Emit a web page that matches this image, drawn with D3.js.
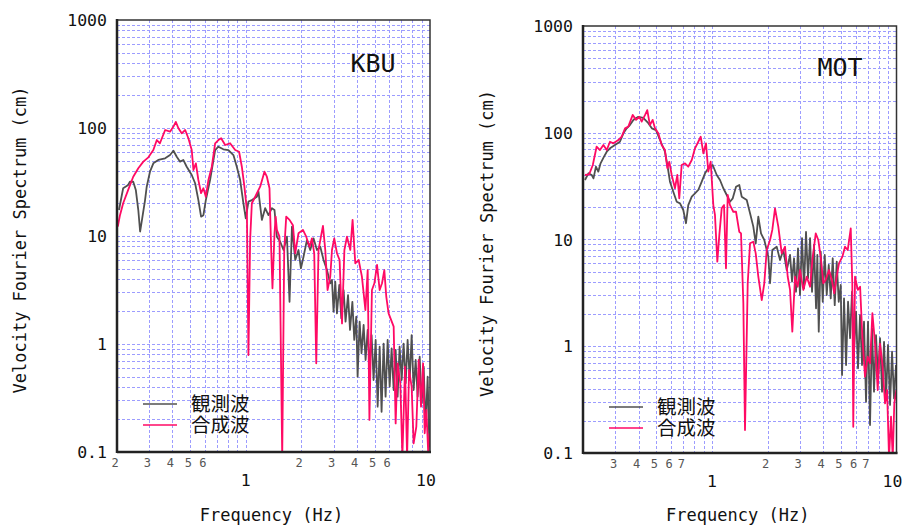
<!DOCTYPE html>
<html>
<head>
<meta charset="utf-8">
<script src="https://cdn.jsdelivr.net/npm/d3@7"></script>
<style>
  body { margin: 0; background: #fff; }
  svg { display: block; }
  .mono { font-family: 'DejaVu Sans Mono', 'Liberation Mono', monospace; }
</style>
</head>
<body>
<script>
// KBU - observed (grey) and synthetic (pink)
const kbuObsFreq = [0.205,0.216,0.230,0.235,0.245,0.253,0.261,0.267,0.275,0.284,0.290,0.302,0.315,0.335,0.365,0.388,0.405,0.422,0.440,0.458,0.478,0.509,0.531,0.553,0.572,0.589,0.607,0.640,0.682,0.710,0.756,0.805,0.857,0.894,0.932,0.971,1.00,1.034,1.079,1.149,1.172,1.223,1.274,1.328,1.386,1.432,1.475,1.538,1.603,1.673,1.728,1.781,1.856,1.933,1.992,2.058,2.148,2.238,2.332,2.434,2.537,2.644,2.759,2.875,
  2.937,2.996,3.06,3.126,3.218,3.30,3.396,3.48,3.59,3.68,3.79,3.88,3.98,4.046,4.15,4.25,4.362,4.47,4.59,4.70,4.82,4.94,5.07,5.20,5.33,5.46,5.60,5.74,5.89,6.04,6.19,6.35,6.51,6.67,6.84,7.02,7.19,7.38,7.56,7.76,7.95,8.15,8.36,8.57,8.79,9.01,9.24,9.47,9.71,9.92];
const kbuObsAmp = [17.4,27.7,29.7,31.8,31.8,26.7,17.4,11.0,15.1,21.5,28.6,39.4,47.1,50.6,52.4,56.2,61.6,54.2,48.8,50.6,43.8,36.7,30.8,21.5,15.1,15.6,21.5,33.0,62.5,67.1,63.5,62.5,56.2,43.8,33.0,20.1,14.6,20.8,21.5,23.1,25.7,14.1,18.1,15.6,18.1,17.4,9.86,8.85,7.42,9.86,2.46,12.2,6.0,7.42,5.02,6.43,9.18,7.42,9.52,7.42,7.96,6.0,4.84,3.65,
  3.91,1.99,3.77,1.92,3.52,1.73,3.16,1.61,2.84,1.35,2.46,1.09,1.79,0.498,1.61,0.82,1.50,0.711,1.35,0.616,1.21,0.464,1.09,0.263,0.944,0.236,1.01,0.325,1.09,0.403,0.912,0.375,0.88,0.325,0.944,0.464,1.01,0.433,1.09,0.464,1.21,0.375,0.711,0.325,0.763,0.282,0.616,0.172,0.498,0.112];
const kbuSynFreq = [0.202,0.2076,0.216,0.230,0.245,0.261,0.278,0.296,0.315,0.329,0.342,0.365,0.388,0.405,0.417,0.431,0.449,0.469,0.488,0.509,0.520,0.536,0.553,0.572,0.589,0.607,0.627,0.654,0.682,0.710,0.735,0.773,0.822,0.876,0.920,0.952,0.983,1.014,1.034,1.056,1.079,1.125,1.197,1.263,1.302,1.345,1.374,1.396,1.432,1.453,1.475,1.524,1.577,1.617,1.658,1.728,1.803,1.856,1.933,2.043,2.129,2.219,2.287,2.353,2.413,2.483,2.559,2.624,2.701,2.779,2.875,2.937,3.022,3.126,3.23,3.33,3.43,3.543,3.693,3.80,3.93,4.10,4.27,4.46,4.59,4.69,4.84,4.99,5.16,5.33,5.49,5.65,5.79,5.96,6.15,6.35,6.51,6.67,6.90,7.08,7.32,7.51,7.70,7.95,8.15,8.43,8.68,8.94,9.17,9.36,9.56,9.80,9.96];
const kbuSynAmp = [12.2,15.6,20.1,26.7,35.4,42.4,48.8,53.5,62.5,77.4,72.2,95.8,92.4,103,114,99.4,89.3,95.8,80.3,62.5,40.8,47.1,33.0,24.9,27.7,23.1,33.0,43.8,72.2,77.4,80.3,69.6,72.2,62.5,60.3,43.8,28.6,17.4,0.791,9.18,20.1,23.1,28.6,39.4,35.4,27.7,7.42,3.28,10.6,15.1,11.4,9.86,0.09,7.42,15.1,14.1,12.6,6.92,10.6,11.4,9.86,7.96,9.52,6.92,0.663,7.42,9.86,12.4,7.42,3.16,4.20,7.42,9.52,6.92,6.0,1.55,7.42,9.86,7.42,14.1,5.59,6.0,4.20,2.06,4.84,0.198,3.16,3.65,5.39,3.16,3.65,4.84,2.74,1.92,1.67,1.45,0.184,0.663,0.433,0.09,0.616,0.09,0.574,0.403,0.120,0.172,0.711,0.263,0.663,0.149,0.245,0.09,0.149];

// MOT - observed (grey) and synthetic (pink)
const motObsFreq = [0.205,0.214,0.223,0.228,0.235,0.242,0.249,0.260,0.269,0.280,0.298,0.317,0.331,0.345,0.359,0.375,0.399,0.424,0.452,0.472,0.497,0.523,0.556,0.573,0.592,0.617,0.644,0.671,0.699,0.723,0.744,0.777,0.809,0.843,0.880,0.917,0.955,1.009,1.061,1.105,1.152,1.202,1.252,1.296,1.350,1.406,1.449,1.543,1.608,1.675,1.726,1.783,1.844,1.921,2.020,2.064,2.123,2.243,2.338,2.436,2.542,
  2.649,2.716,2.784,2.854,2.926,3.00,3.076,3.153,3.233,3.315,3.40,3.485,3.573,3.664,3.724,3.79,3.886,3.983,4.083,4.187,4.293,4.401,4.512,4.626,4.744,4.863,4.987,5.068,5.196,5.329,5.463,5.602,5.741,5.886,6.035,6.187,6.344,6.503,6.668,6.837,7.009,7.187,7.368,7.553,7.745,7.943,8.143,8.349,8.56,8.776,8.997,9.226,9.459,9.696,9.94];
const motObsAmp = [36.1,41.7,40.2,37.4,48.1,43.2,51.7,59.7,66.4,71.5,76.8,82.4,98.8,110,118,132,141,138,123,110,106,85.5,66.4,49.9,34.8,28.0,22.6,21.8,18.9,14.2,21.0,25.2,27.1,29.1,34.8,41.7,46.5,49.9,40.2,36.1,30.2,26.1,22.6,24.3,31.2,32.4,25.2,23.4,17.6,13.2,9.21,16.4,11.4,9.89,6.90,3.89,7.97,8.56,6.43,7.97,5.18,
  7.16,4.03,6.67,3.24,8.27,3.02,10.3,3.49,11.8,4.33,10.3,3.24,8.88,2.27,7.16,1.37,7.69,2.61,7.16,3.02,5.77,2.81,6.67,2.43,6.20,2.61,3.75,0.538,2.81,0.667,2.61,1.19,3.24,0.889,2.11,0.622,1.96,0.667,1.70,0.302,1.70,0.183,1.47,0.375,1.27,0.501,1.19,0.375,1.10,0.325,1.03,0.282,0.889,0.325,0.667];
const motSynFreq = [0.205,0.216,0.226,0.237,0.247,0.258,0.269,0.280,0.292,0.311,0.324,0.338,0.352,0.372,0.388,0.404,0.416,0.434,0.446,0.461,0.477,0.491,0.512,0.534,0.556,0.573,0.587,0.605,0.630,0.649,0.665,0.685,0.714,0.744,0.777,0.809,0.843,0.869,0.898,0.928,0.955,0.984,1.017,1.038,1.069,1.096,1.129,1.162,1.191,1.217,1.252,1.305,1.350,1.406,1.437,1.479,1.510,1.562,1.608,1.675,1.726,1.783,1.861,1.921,1.980,2.064,2.123,2.196,2.288,2.388,2.489,2.573,2.649,2.725,2.819,2.915,3.00,3.126,3.262,3.40,3.50,3.65,3.77,3.90,4.01,4.13,4.31,4.46,4.60,4.74,4.88,5.09,5.26,5.44,5.65,5.76,5.83,5.96,6.17,6.35,6.53,6.75,6.98,7.19,7.40,7.65,7.91,8.14,8.38,8.67,8.89,9.11,9.34,9.54,9.73,9.98];
const motSynAmp = [40.2,40.8,49.9,74.0,68.9,76.8,68.9,82.4,79.6,85.5,91.8,110,114,147,132,141,127,147,163,118,132,110,98.8,76.8,68.9,46.5,53.5,40.2,30.2,40.2,24.3,49.9,51.7,48.1,55.6,71.5,82.4,91.8,64.2,79.6,43.2,53.5,21.0,17.0,6.20,11.0,19.6,21.0,5.37,26.1,21.0,18.2,18.2,11.8,11.4,2.53,0.164,3.89,9.21,9.54,7.42,4.48,2.71,3.89,7.97,9.89,12.3,19.6,13.2,7.42,8.56,4.48,3.37,1.37,4.48,3.61,5.18,3.37,4.48,3.61,6.43,11.4,9.89,6.43,3.89,4.18,5.18,4.18,3.13,4.48,5.98,6.90,8.56,7.97,12.7,3.89,0.176,4.48,3.37,3.61,1.23,0.519,0.798,0.692,2.04,1.06,0.389,1.06,0.692,0.292,0.389,0.09,0.219,0.09,0.292,0.389];

// axes
const yTickValues = [0.1, 1, 10, 100, 1000];
const yTickLabels = ['0.1', '1', '10', '100', '1000'];
const xMajorValues = [1, 10];
const xMajorLabels = ['1', '10'];
const kbuMinorValues = [0.2, 0.3, 0.4, 0.5, 0.6, 2, 3, 4, 5, 6];
const motMinorValues = [0.3, 0.4, 0.5, 0.6, 0.7, 2, 3, 4, 5, 6, 7];
const legendLabels = ['観測波', '合成波'];

const W = 907, H = 525;
const GREY = '#505050', PINK = '#ff0a64', GRID = '#9c9cff';

const svg = d3.select('body').append('svg')
  .attr('width', W).attr('height', H);
svg.append('rect').attr('width', W).attr('height', H).attr('fill', '#fff');

const panels = [
  {
    id: 'kbu', name: 'KBU', left: 117, right: 430, top: 20, bottom: 452,
    minor: kbuMinorValues, yTitleX: 20, nameX: 373, nameY: 63, legendX: 143, legendY: 404,
    series: [
      { freq: kbuObsFreq, amp: kbuObsAmp, color: GREY },
      { freq: kbuSynFreq, amp: kbuSynAmp, color: PINK },
    ],
  },
  {
    id: 'mot', name: 'MOT', left: 583, right: 896.5, top: 26, bottom: 453,
    minor: motMinorValues, yTitleX: 487, nameX: 840, nameY: 67, legendX: 609, legendY: 407,
    series: [
      { freq: motObsFreq, amp: motObsAmp, color: GREY },
      { freq: motSynFreq, amp: motSynAmp, color: PINK },
    ],
  },
];

panels.forEach((p) => {
  const x = d3.scaleLog().domain([0.2, 10]).range([p.left, p.right]);
  const y = d3.scaleLog().domain([0.1, 1000]).range([p.bottom, p.top]);
  const g = svg.append('g');

  // dashed grid
  const gridY = [];
  [0.1, 1, 10, 100].forEach((d) => {
    for (let k = 1; k <= 9; k++) gridY.push(d * k);
  });
  const gridX = [0.3, 0.4, 0.5, 0.6, 0.7, 0.8, 0.9, 1, 2, 3, 4, 5, 6, 7, 8, 9];

  g.selectAll('.gy').data(gridY.filter((d) => d > 0.1))
    .join('line')
    .attr('x1', p.left).attr('x2', p.right)
    .attr('y1', (d) => Math.round(y(d)) + 0.5).attr('y2', (d) => Math.round(y(d)) + 0.5)
    .attr('stroke', GRID).attr('stroke-width', 1).attr('stroke-dasharray', '3,2');

  g.selectAll('.gx').data(gridX)
    .join('line')
    .attr('y1', p.top).attr('y2', p.bottom)
    .attr('x1', (d) => Math.round(x(d)) + 0.5).attr('x2', (d) => Math.round(x(d)) + 0.5)
    .attr('stroke', GRID).attr('stroke-width', 1).attr('stroke-dasharray', '3,2');

  // spectra
  g.append('clipPath').attr('id', 'clip-' + p.id)
    .append('rect')
    .attr('x', p.left).attr('y', p.top)
    .attr('width', p.right - p.left).attr('height', p.bottom - p.top);

  const line = d3.line().x((d) => x(d[0])).y((d) => y(d[1]));
  p.series.forEach((s) => {
    g.append('path')
      .datum(s.freq.map((f, i) => [f, s.amp[i]]))
      .attr('clip-path', 'url(#clip-' + p.id + ')')
      .attr('fill', 'none')
      .attr('stroke', s.color)
      .attr('stroke-width', 1.8)
      .attr('stroke-linejoin', 'round')
      .attr('d', line);
  });

  // frame
  g.append('rect')
    .attr('x', p.left).attr('y', p.top)
    .attr('width', p.right - p.left).attr('height', p.bottom - p.top)
    .attr('fill', 'none').attr('stroke', '#333').attr('stroke-width', 1.5);
  g.append('line')
    .attr('x1', p.left).attr('x2', p.left).attr('y1', p.top - 1).attr('y2', p.bottom + 1)
    .attr('stroke', '#222').attr('stroke-width', 2.5);
  g.append('line')
    .attr('x1', p.left).attr('x2', p.right + 1).attr('y1', p.bottom).attr('y2', p.bottom)
    .attr('stroke', '#222').attr('stroke-width', 2.5);

  // y tick labels
  g.selectAll('.yl').data(yTickValues)
    .join('text')
    .attr('class', 'mono')
    .attr('x', p.left - 10).attr('y', (d) => y(d) + 6)
    .attr('text-anchor', 'end')
    .attr('font-size', 16.5).attr('fill', '#111')
    .text((d, i) => yTickLabels[i]);

  // x minor labels
  g.selectAll('.xm').data(p.minor)
    .join('text')
    .attr('class', 'mono')
    .attr('x', (d) => x(d) - 2).attr('y', p.bottom + 15)
    .attr('text-anchor', 'middle')
    .attr('font-size', 12).attr('fill', '#555')
    .text((d) => (d < 1 ? Math.round(d * 10) : d));

  // x major labels
  g.selectAll('.xM').data(xMajorValues)
    .join('text')
    .attr('class', 'mono')
    .attr('x', (d) => x(d) - (d === 10 ? 4 : 0)).attr('y', p.bottom + 34)
    .attr('text-anchor', 'middle')
    .attr('font-size', 16.5).attr('fill', '#111')
    .text((d, i) => xMajorLabels[i]);

  // axis titles
  g.append('text')
    .attr('class', 'mono')
    .attr('x', (p.left + p.right) / 2 - 2).attr('y', H - 4)
    .attr('text-anchor', 'middle')
    .attr('font-size', 17).attr('fill', '#111')
    .text('Frequency (Hz)');

  g.append('text')
    .attr('class', 'mono')
    .attr('transform', `translate(${p.yTitleX + 6},${(p.top + p.bottom) / 2 + 4}) rotate(-90)`)
    .attr('text-anchor', 'middle')
    .attr('font-size', 17).attr('fill', '#111')
    .text('Velocity Fourier Spectrum (cm)');

  // station name
  g.append('text')
    .attr('class', 'mono')
    .attr('x', p.nameX).attr('y', p.nameY + 9)
    .attr('text-anchor', 'middle')
    .attr('font-size', 25).attr('fill', '#111')
    .text(p.name);

  // legend
  const lg = g.append('g');
  p.series.forEach((s, i) => {
    const ly = p.legendY + i * 21;
    lg.append('line')
      .attr('x1', p.legendX).attr('x2', p.legendX + 34)
      .attr('y1', ly).attr('y2', ly)
      .attr('stroke', s.color).attr('stroke-width', 1.6);
    lg.append('text')
      .attr('x', p.legendX + 48).attr('y', ly + 7)
      .attr('font-family', "'Noto Sans CJK JP', sans-serif")
      .attr('font-size', 19.5).attr('fill', '#111')
      .text(legendLabels[i]);
  });
});
</script>
</body>
</html>
